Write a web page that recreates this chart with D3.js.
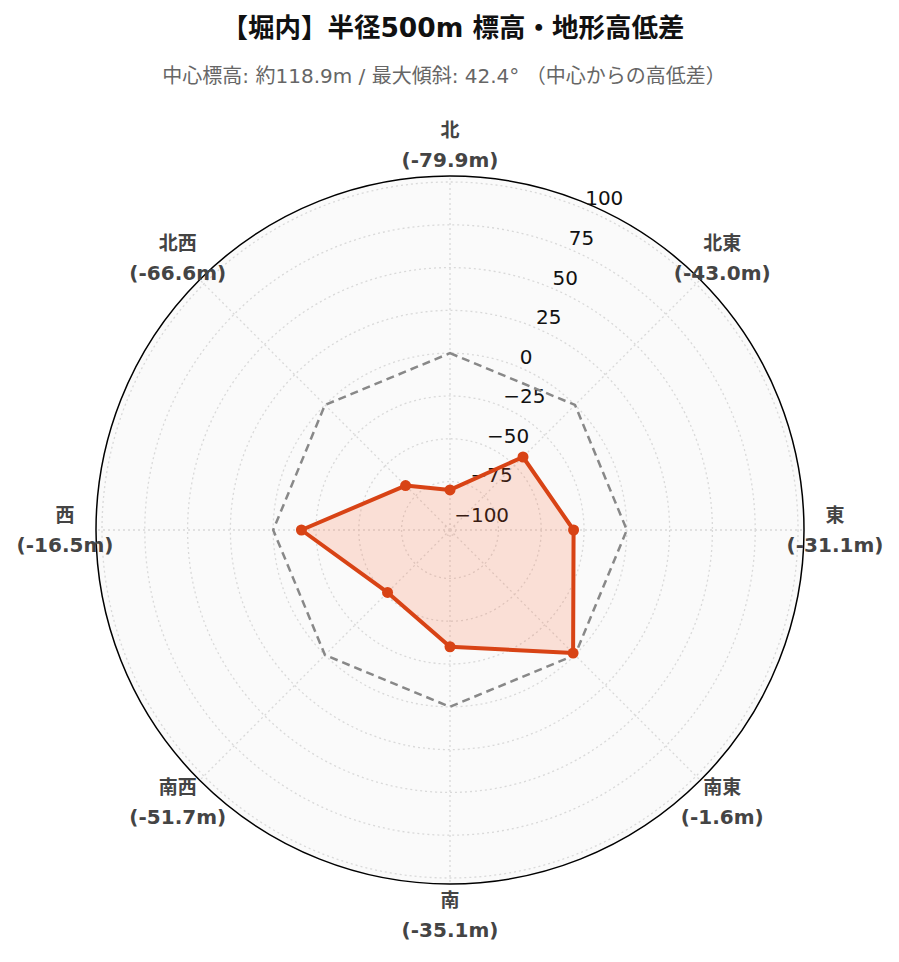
<!DOCTYPE html>
<html><head><meta charset="utf-8">
<script src="https://cdn.jsdelivr.net/npm/d3@7"></script>
<style>
body{margin:0;background:#fff;}
svg{display:block;font-family:"DejaVu Sans","Noto Sans CJK JP",sans-serif;}
</style></head>
<body>
<svg id="chart" width="899" height="962"></svg>
<script>
const titleText = "【堀内】半径500m 標高・地形高低差";
const subtitleText = "中心標高: 約118.9m / 最大傾斜: 42.4° （中心からの高低差）";
const directions = ["北","北東","東","南東","南","南西","西","北西"];
const values = [-79.9, -43.0, -31.1, -1.6, -35.1, -51.7, -16.5, -66.6];
const referenceValues = [0, 0, 0, 0, 0, 0, 0, 0];
const radialTicks = [-100, -75, -50, -25, 0, 25, 50, 75, 100];
const radialDomain = [-103.3, 103.5];

const svg = d3.select("#chart");
const cx = 450, cy = 530, R = 354;
const r = d3.scaleLinear().domain(radialDomain).range([0, R]);
const ang = d3.scaleLinear().domain([0, directions.length]).range([0, 2*Math.PI]);
const px = (i, v) => cx + r(v) * Math.sin(ang(i));
const py = (i, v) => cy - r(v) * Math.cos(ang(i));

// title
svg.append("text").attr("x", 453).attr("y", 27).attr("text-anchor","middle")
  .attr("dominant-baseline","central").attr("font-size",26.5).attr("font-weight","bold")
  .attr("fill","#111").text(titleText);
svg.append("text").attr("x", 444).attr("y", 76).attr("text-anchor","middle")
  .attr("dominant-baseline","central").attr("font-size",20)
  .attr("fill","#666").text(subtitleText);

// background
svg.append("circle").attr("cx",cx).attr("cy",cy).attr("r",R).attr("fill","#fafafa");

// grid circles
svg.append("g").selectAll("circle").data(radialTicks).join("circle")
  .attr("cx",cx).attr("cy",cy).attr("r",d=>r(d))
  .attr("fill","none").attr("stroke","#d9d9d9").attr("stroke-width",1.3)
  .attr("stroke-dasharray","2,3");
// spokes
svg.append("g").selectAll("line").data(directions).join("line")
  .attr("x1",cx).attr("y1",cy)
  .attr("x2",(d,i)=>cx + R*Math.sin(ang(i))).attr("y2",(d,i)=>cy - R*Math.cos(ang(i)))
  .attr("stroke","#d9d9d9").attr("stroke-width",1.3).attr("stroke-dasharray","2,3");

// outer circle
svg.append("circle").attr("cx",cx).attr("cy",cy).attr("r",R)
  .attr("fill","none").attr("stroke","#000").attr("stroke-width",1.5);

// radial tick labels along 22.5deg
const tickAng = Math.PI/8;
svg.append("g").selectAll("text").data(radialTicks).join("text")
  .attr("x", d => cx + r(d)*Math.sin(tickAng) + 2)
  .attr("y", d => cy - r(d)*Math.cos(tickAng) - 3)
  .attr("font-size",20).attr("fill","#111")
  .text(d => d < 0 ? "\u2212" + Math.abs(d) : String(d));

// reference polygon
const line = d3.line().curve(d3.curveLinearClosed);
svg.append("path")
  .attr("d", line(referenceValues.map((v,i)=>[px(i,v),py(i,v)])))
  .attr("fill","none").attr("stroke","#888").attr("stroke-width",2.5)
  .attr("stroke-dasharray","8,5");

// data polygon
const pts = values.map((v,i)=>[px(i,v),py(i,v)]);
svg.append("path").attr("d", line(pts))
  .attr("fill","rgba(255,87,34,0.16)").attr("stroke","#d84315")
  .attr("stroke-width",4).attr("stroke-linejoin","round");
svg.append("g").selectAll("circle").data(pts).join("circle")
  .attr("cx",d=>d[0]).attr("cy",d=>d[1]).attr("r",5.5).attr("fill","#d84315");

// angular labels
const LR = 385;
const lab = svg.append("g").selectAll("g").data(directions).join("g")
  .attr("transform",(d,i)=>`translate(${cx + LR*Math.sin(ang(i))},${cy - LR*Math.cos(ang(i))})`);
lab.append("text").attr("y",-15).attr("text-anchor","middle").attr("dominant-baseline","central")
  .attr("font-size",19).attr("font-weight","bold").attr("fill","#444").text(d=>d);
lab.append("text").attr("y",15).attr("text-anchor","middle").attr("dominant-baseline","central")
  .attr("font-size",20).attr("font-weight","bold").attr("fill","#444")
  .text((d,i)=>`(${values[i].toFixed(1)}m)`);
</script>
</body></html>
